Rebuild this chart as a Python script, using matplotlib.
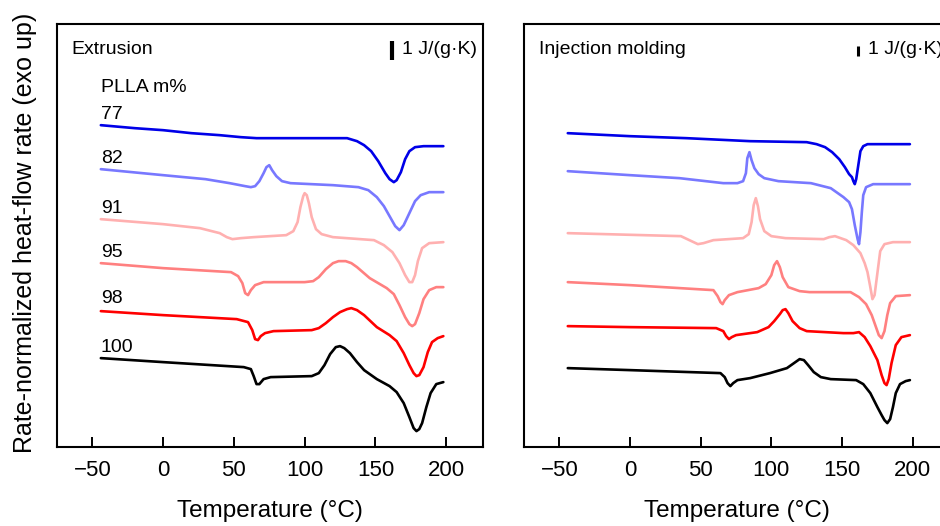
import matplotlib
matplotlib.use("Agg")
import matplotlib.pyplot as plt


# DSC traces: temperature (degC) and heat-flow height (a.u., exo up)

# Extrusion
ext_t_77 = [-44, -20, 0, 20, 40, 55, 66, 100, 130, 137, 142, 147, 152, 157, 160, 163, 165, 168, 171, 174, 178, 184, 198]
ext_h_77 = [322, 319, 317, 314, 312, 310, 309, 309, 309, 306, 302, 296, 286, 274, 268, 265, 267, 275, 288, 296, 300, 301, 301]

ext_t_82 = [-44, 0, 30, 47, 58, 62, 65, 68, 71, 73, 75, 77, 80, 84, 90, 120, 138, 145, 151, 156, 160, 164, 167, 170,
            174, 178, 182, 188, 198]
ext_h_82 = [278, 272, 268, 264, 261, 260, 261, 266, 274, 280, 282, 277, 271, 266, 264, 262, 260, 257, 250, 241, 231, 221,
            217, 222, 234, 246, 252, 255, 255]

ext_t_91 = [-44, 0, 26, 40, 45, 49, 55, 64, 87, 92, 95, 97, 99, 100, 101.5, 103, 105, 108, 112, 120, 149, 156, 162, 167,
            171, 174, 176, 178, 180, 183, 188, 198]
ext_h_91 = [228, 223, 219, 214, 210, 208, 209, 210, 212, 216, 225, 240, 251, 254, 252, 244, 230, 218, 213, 210, 207, 202,
            195, 184, 172, 165, 165, 172, 186, 199, 204, 205]

ext_t_95 = [-44, 0, 48, 53, 56, 58, 60, 62, 65, 71, 100, 106, 110, 115, 120, 124, 129, 133, 137, 146, 158, 163, 167, 171,
            174, 176, 178, 181, 184, 188, 193, 198]
ext_h_95 = [184, 179, 175, 171, 164, 154, 152, 157, 162, 165, 165, 166, 170, 178, 184, 186, 186, 184, 180, 169, 159, 153,
            142, 130, 123, 121, 123, 134, 148, 157, 160, 160]

ext_t_98 = [-44, 0, 52, 60, 63, 65, 67, 69, 72, 78, 105, 110, 115, 120, 125, 130, 133, 137, 142, 151, 160, 165, 170, 174,
            177, 179, 181, 184, 187, 190, 194, 198]
ext_h_98 = [136, 132, 128, 125, 117, 108, 107, 111, 114, 116, 117, 119, 124, 130, 135, 138, 139, 137, 132, 120, 112, 106,
            94, 82, 74, 71, 72, 80, 95, 105, 109, 111]

ext_t_100 = [-44, 0, 57, 62, 64, 66, 68, 71, 76, 105, 110, 114, 118, 122, 125, 128, 132, 137, 142, 151, 160, 165, 170,
             174, 177, 179, 181, 183, 186, 189, 193, 198]
ext_h_100 = [89, 85, 80, 78, 71, 63, 63, 68, 70, 71, 74, 82, 93, 100, 101, 99, 94, 85, 77, 68, 61, 55, 44, 30, 19, 16,
             18, 24, 40, 54, 63, 65]

# Injection molding
inj_t_77 = [-44, 0, 40, 85, 125, 132, 138, 143, 148, 152, 155, 157, 158, 159, 160, 161.5, 163, 165, 168, 175, 198]
inj_h_77 = [314, 311, 309, 306, 305, 303, 300, 295, 288, 280, 273, 270, 266, 263, 268, 282, 296, 301, 303, 303, 303]

inj_t_82 = [-44, 0, 35, 66, 76, 80, 82, 83, 84.5, 86, 88, 91, 95, 105, 128, 142, 151, 155, 157, 159, 161, 162, 163, 164,
            165, 167, 172, 198]
inj_h_82 = [276, 272, 269, 264, 264, 266, 274, 289, 295, 287, 279, 273, 269, 266, 264, 259, 250, 245, 238, 222, 208, 203,
            215, 235, 252, 260, 263, 263]

inj_t_91 = [-44, 36, 42, 48, 52, 59, 80, 84, 86, 87.5, 89, 90.5, 92, 95, 100, 110, 137, 141, 145, 149, 153, 158, 163,
            166, 168, 170, 171.5, 173, 175, 177, 180, 186, 198]
inj_h_91 = [214, 211, 207, 203, 204, 207, 209, 213, 225, 242, 249, 241, 228, 216, 211, 209, 208, 210, 211, 209, 207, 202,
            194, 184, 175, 160, 148, 152, 174, 196, 203, 205, 205]

inj_t_95 = [-44, 0, 59, 62, 64, 65.5, 67, 70, 76, 91, 96, 100, 102, 104, 106, 108, 112, 120, 127, 156, 162, 167, 171,
            174, 176, 178, 180, 182, 184, 188, 198]
inj_h_95 = [165, 162, 157, 151, 145, 143, 147, 152, 155, 159, 163, 172, 182, 186, 180, 170, 160, 156, 155, 155, 150, 143,
            132, 120, 112, 109, 116, 132, 144, 151, 152]

inj_t_98 = [-44, 0, 61, 66, 68, 70, 72, 75, 90, 98, 102, 106, 108, 110, 112, 115, 120, 125, 151, 158, 162, 166, 170,
            175, 178, 180, 181.5, 183, 185, 188, 192, 198]
inj_h_98 = [121, 120, 119, 116, 111, 108, 110, 112, 115, 120, 126, 133, 137, 138, 134, 126, 119, 116, 114, 114, 115, 110,
            101, 87, 72, 64, 62, 68, 84, 102, 110, 112]

inj_t_100 = [-44, 0, 64, 67, 69, 71, 73, 76, 85, 99, 111, 116, 120, 123, 126, 130, 135, 142, 160, 165, 170, 175, 178,
             180, 182, 184, 186, 188, 191, 195, 198]
inj_h_100 = [79, 77, 74, 70, 64, 61, 64, 67, 69, 74, 79, 84, 88, 87, 82, 75, 70, 68, 67, 63, 54, 40, 32, 27, 24, 28, 40,
             54, 63, 66, 67]

plla = ["77", "82", "91", "95", "98", "100"]
label_h = [333, 289, 239, 195, 149, 100]
colors = ["#0000e8", "#7878ff", "#ffb0b0", "#ff8080", "#ff0000", "#000000"]
x_ticks = [-50, 0, 50, 100, 150, 200]

plt.rcParams["font.family"] = ["Liberation Sans", "DejaVu Sans"]


def draw_panel(ax, traces, title, bar_lw, bar_h, show_labels):
    for (t, h), c in zip(traces, colors):
        ax.plot(t, h, color=c, lw=1.9, solid_joinstyle="round", solid_capstyle="round")

    ax.set_xlim(-75, 226)
    ax.set_ylim(0, 423)
    ax.set_xticks(x_ticks)
    ax.set_yticks([])
    ax.tick_params(axis="x", direction="in", length=7, width=1.4, labelsize=16, pad=9)
    for s in ax.spines.values():
        s.set_linewidth(1.5)
    ax.set_xlabel("Temperature (°C)", fontsize=17.5, labelpad=14)

    ax.text(0.035, 0.941, title, transform=ax.transAxes, fontsize=14, va="center", ha="left")
    # 1 J/(g K) scale bar
    ax.plot([161.5, 161.5], bar_h, color="black", lw=bar_lw, solid_capstyle="butt")
    ax.text(168.5, 398, "1 J/(g·K)", fontsize=14, va="center", ha="left", clip_on=False)

    if show_labels:
        ax.text(-44, 360, "PLLA m%", fontsize=14, va="center", ha="left")
        for lab, y in zip(plla, label_h):
            ax.text(-44, y, lab, fontsize=14, va="center", ha="left")


def main():
    fig = plt.figure(figsize=(9.4, 5.26), dpi=100)
    ax1 = fig.add_axes([0.0606, 0.150, 0.4532, 0.804])
    ax2 = fig.add_axes([0.5574, 0.150, 0.4527, 0.804])

    ext = [(ext_t_77, ext_h_77), (ext_t_82, ext_h_82), (ext_t_91, ext_h_91),
           (ext_t_95, ext_h_95), (ext_t_98, ext_h_98), (ext_t_100, ext_h_100)]
    inj = [(inj_t_77, inj_h_77), (inj_t_82, inj_h_82), (inj_t_91, inj_h_91),
           (inj_t_95, inj_h_95), (inj_t_98, inj_h_98), (inj_t_100, inj_h_100)]

    draw_panel(ax1, ext, "Extrusion", 3.0, [387, 406], True)
    draw_panel(ax2, inj, "Injection molding", 2.2, [391, 401], False)
    # right panel is cut off at the image edge in the original
    ax2.spines["right"].set_visible(False)

    fig.text(25 / 940, 1 - 233 / 526, "Rate-normalized heat-flow rate (exo up)",
             rotation=90, fontsize=18, va="center", ha="center")

    fig.savefig("out.png", dpi=100)


if __name__ == "__main__":
    main()
